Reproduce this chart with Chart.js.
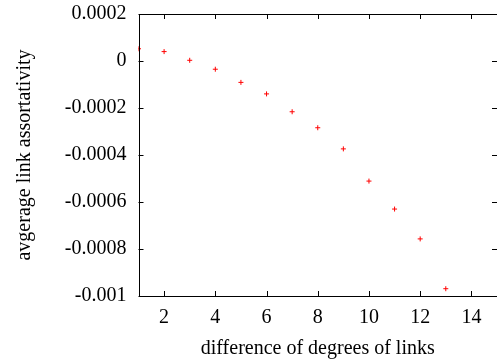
<!DOCTYPE html>
<html>
<head>
<meta charset="utf-8">
<script src="https://cdn.jsdelivr.net/npm/chart.js@4/dist/chart.umd.min.js"></script>
<style>
  html, body { margin: 0; padding: 0; background: #fff; overflow: hidden; }
  #wrap { width: 502px; height: 360px; }
</style>
</head>
<body>
<div id="wrap"><canvas id="chart" width="502" height="360"></canvas></div>
<script>
// data
const degreeDiff = [1, 2, 3, 4, 5, 6, 7, 8, 9, 10, 11, 12, 13];
const assortativity = [0.000052, 0.00004, 0.000003, -0.000035, -0.000091, -0.00014, -0.000216, -0.000284, -0.000374, -0.000511, -0.00063, -0.000757, -0.000969];

const xTicks = [2, 4, 6, 8, 10, 12, 14];
const yTicks = [0.0002, 0, -0.0002, -0.0004, -0.0006, -0.0008, -0.001];
const yTickLabels = ["0.0002", "0", "-0.0002", "-0.0004", "-0.0006", "-0.0008", "-0.001"];

const serif = "'Liberation Serif', 'DejaVu Serif', serif";

// gnuplot style frame with inward ticks on all four sides
const framePlugin = {
  id: "frame",
  afterDraw(chart) {
    const { ctx, chartArea: a, scales } = chart;
    const len = 5;
    ctx.save();
    ctx.strokeStyle = "#000";
    ctx.lineWidth = 1;
    ctx.beginPath();
    xTicks.forEach(v => {
      const px = Math.round(scales.x.getPixelForValue(v)) + 0.5;
      ctx.moveTo(px, a.bottom); ctx.lineTo(px, a.bottom - len);
      ctx.moveTo(px, a.top); ctx.lineTo(px, a.top + len);
    });
    yTicks.forEach(v => {
      const py = Math.round(scales.y.getPixelForValue(v)) + 0.5;
      ctx.moveTo(a.left, py); ctx.lineTo(a.left + len, py);
      ctx.moveTo(a.right, py); ctx.lineTo(a.right - len, py);
    });
    ctx.stroke();
    ctx.strokeRect(Math.round(a.left) + 0.5, Math.round(a.top) + 0.5,
      Math.round(a.right - a.left), Math.round(a.bottom - a.top));
    ctx.restore();
  }
};

new Chart(document.getElementById("chart"), {
  type: "scatter",
  data: {
    datasets: [{
      data: degreeDiff.map((x, i) => ({ x: x, y: assortativity[i] })),
      pointStyle: "cross",
      pointRadius: 2.5,
      pointBorderWidth: 1,
      borderColor: "#ff0000",
      backgroundColor: "#ff0000"
    }]
  },
  options: {
    responsive: false,
    animation: false,
    devicePixelRatio: 1,
    layout: { padding: { left: 0, top: 14, right: 3, bottom: 0 } },
    plugins: { legend: { display: false }, tooltip: { enabled: false } },
    scales: {
      x: {
        type: "linear",
        min: 1,
        max: 15,
        afterFit: s => { s.height = 64; s.paddingLeft = 0; s.paddingRight = 0; },
        afterBuildTicks: s => { s.ticks = xTicks.map(v => ({ value: v })); },
        grid: { display: false, drawTicks: false },
        border: { display: false },
        ticks: { color: "#000", font: { family: serif, size: 20 }, padding: 10, maxRotation: 0 },
        title: {
          display: true,
          text: "difference of degrees of links",
          color: "#000",
          font: { family: serif, size: 20 },
          padding: { top: 0, bottom: -1 }
        }
      },
      y: {
        min: -0.001,
        max: 0.0002,
        afterFit: s => { s.width = 138.5; s.paddingTop = 0; s.paddingBottom = 0; },
        afterBuildTicks: s => { s.ticks = yTicks.map(v => ({ value: v })); },
        grid: { display: false, drawTicks: false },
        border: { display: false },
        ticks: {
          color: "#000",
          font: { family: serif, size: 20 },
          padding: 12,
          callback: (v, i) => yTickLabels[i]
        },
        title: {
          display: true,
          text: "avgerage link assortativity",
          color: "#000",
          font: { family: serif, size: 20 },
          padding: { top: 13, bottom: 0 }
        }
      }
    }
  },
  plugins: [framePlugin]
});
</script>
</body>
</html>
